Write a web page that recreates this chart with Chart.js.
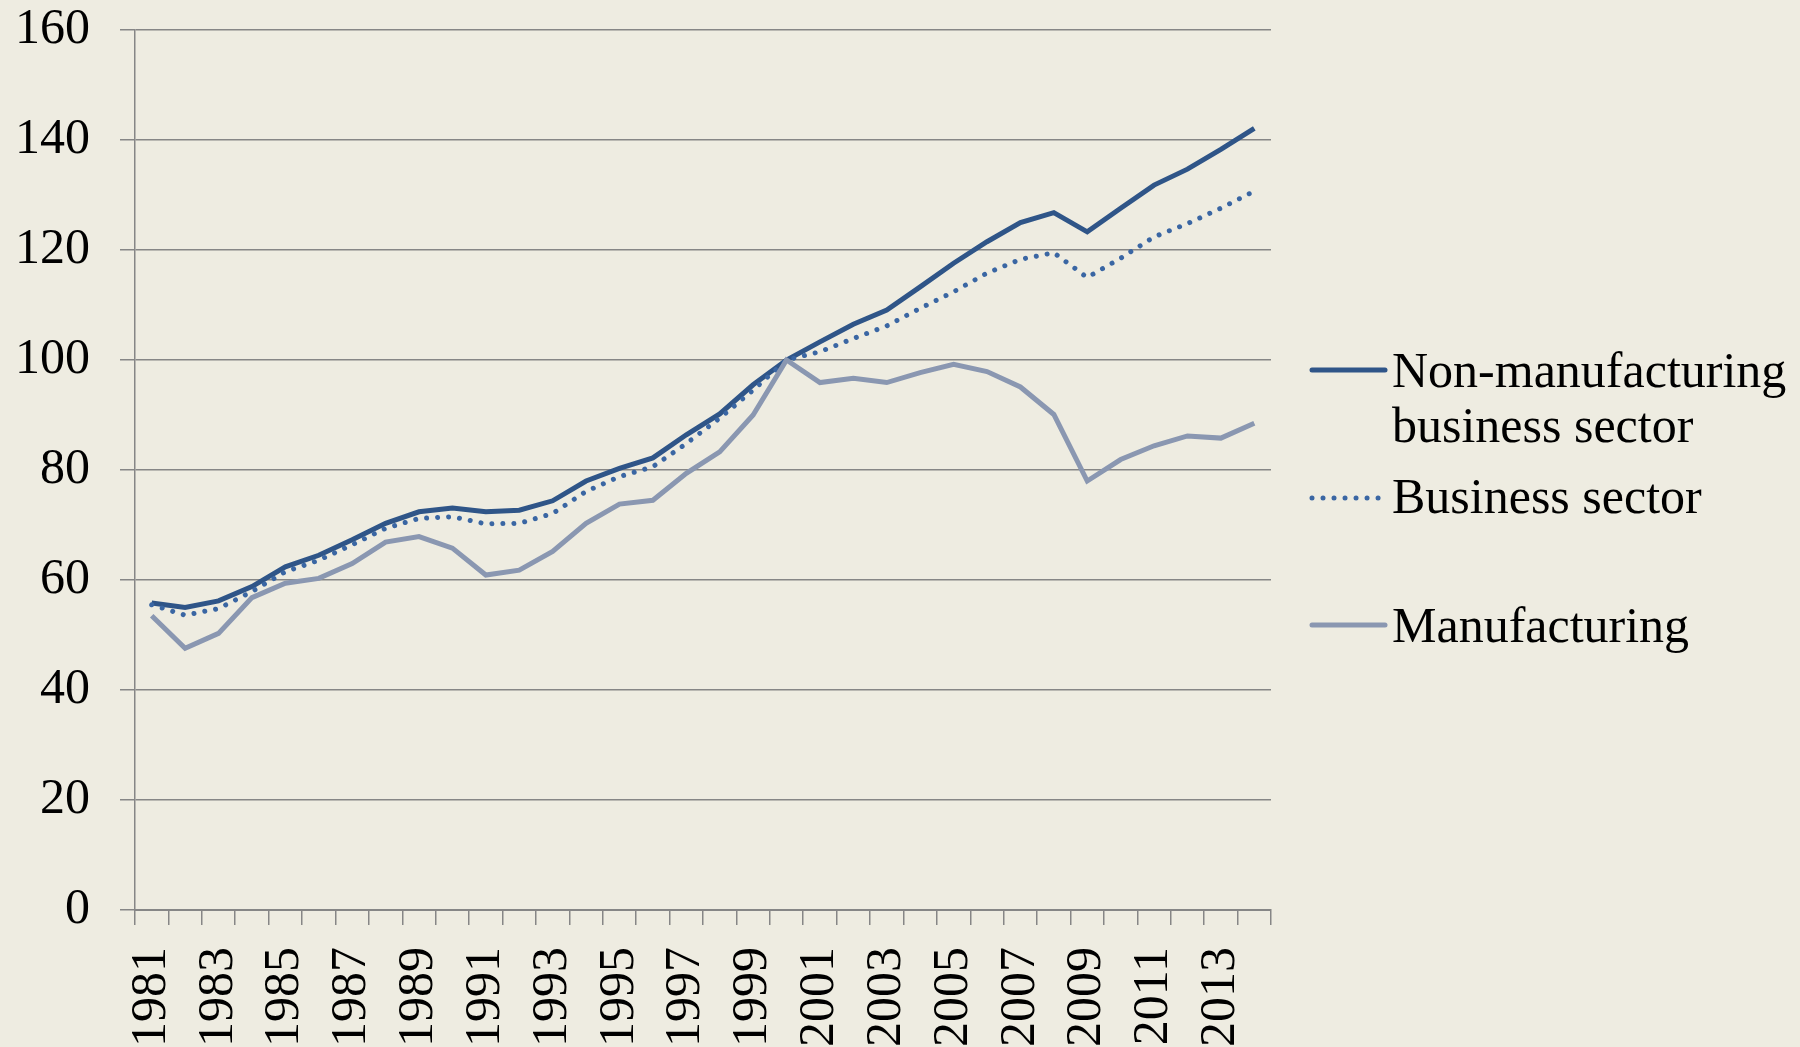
<!DOCTYPE html>
<html>
<head>
<meta charset="utf-8">
<script src="https://cdn.jsdelivr.net/npm/chart.js@4/dist/chart.umd.min.js"></script>
<style>
  html, body { margin: 0; padding: 0; background: #EEECE1; }
  canvas { display: block; }
</style>
</head>
<body>
<canvas id="chart" width="1800" height="1047"></canvas>
<script>
const years = ['1981', '1982', '1983', '1984', '1985', '1986', '1987', '1988', '1989', '1990',
    '1991', '1992', '1993', '1994', '1995', '1996', '1997', '1998', '1999', '2000',
    '2001', '2002', '2003', '2004', '2005', '2006', '2007', '2008', '2009', '2010',
    '2011', '2012', '2013', '2014'];

const nonManufacturing = [55.8, 55.0, 56.2, 58.8, 62.4, 64.5, 67.3, 70.3, 72.4, 73.1,
    72.4, 72.7, 74.4, 78.0, 80.3, 82.2, 86.4, 90.2, 95.5, 100,
    103.3, 106.5, 109.1, 113.3, 117.6, 121.5, 125.0, 126.8, 123.3, 127.6,
    131.8, 134.7, 138.3, 142.1];

const businessSector = [55.5, 53.6, 54.8, 57.9, 61.5, 63.6, 66.4, 69.4, 71.2, 71.5,
    70.2, 70.3, 72.1, 76.1, 78.8, 80.6, 84.8, 89.4, 94.5, 100,
    101.5, 103.9, 106.2, 109.4, 112.4, 115.8, 118.3, 119.5, 115.0, 118.5,
    122.4, 124.8, 127.6, 130.7];

const manufacturing = [53.5, 47.6, 50.3, 56.8, 59.4, 60.3, 63.0, 66.9, 67.9, 65.8,
    60.9, 61.8, 65.2, 70.3, 73.8, 74.5, 79.4, 83.3, 90.0, 100,
    95.9, 96.7, 95.9, 97.7, 99.2, 97.9, 95.1, 90.1, 78.0, 81.9,
    84.4, 86.2, 85.8, 88.5];

// legend text, one entry per series (lines wrap like the original)
const legendLines = [
    ['Non-manufacturing', 'business sector'],
    ['Business sector'],
    ['Manufacturing']
];

const FONT = '"Liberation Serif", "Times New Roman", serif';
const GRID = '#868686';

// draws the legend on the right, like the spreadsheet one
const sideLegend = {
    id: 'sideLegend',
    afterDraw(chart, args, opts) {
        const ctx = chart.ctx;
        const rows = opts.rows;
        ctx.save();
        ctx.font = '50px ' + FONT;
        ctx.fillStyle = '#000';
        ctx.textBaseline = 'alphabetic';
        chart.data.datasets.forEach((ds, i) => {
            const r = rows[i];
            ctx.beginPath();
            ctx.strokeStyle = ds.borderColor;
            ctx.lineWidth = ds.borderWidth;
            ctx.lineCap = 'round';
            ctx.setLineDash(ds.borderDash || []);
            ctx.moveTo(opts.x0, r.y);
            ctx.lineTo(opts.x1, r.y);
            ctx.stroke();
            ctx.setLineDash([]);
            legendLines[i].forEach((txt, j) => {
                ctx.fillText(txt, opts.textX, r.base + j * 55);
            });
        });
        ctx.restore();
    }
};

const ctx = document.getElementById('chart').getContext('2d');
const chart = new Chart(ctx, {
    type: 'line',
    data: {
        labels: years,
        datasets: [
            {
                label: 'Non-manufacturing business sector',
                data: nonManufacturing,
                borderColor: '#2F5588',
                borderWidth: 5,
                order: 3
            },
            {
                label: 'Business sector',
                data: businessSector,
                borderColor: '#3A66A3',
                borderWidth: 5,
                borderDash: [0.01, 11],
                borderCapStyle: 'round',
                order: 2
            },
            {
                label: 'Manufacturing',
                data: manufacturing,
                borderColor: '#8A97B1',
                borderWidth: 5,
                order: 1
            }
        ]
    },
    options: {
        responsive: false,
        animation: false,
        elements: { point: { radius: 0 }, line: { tension: 0 } },
        layout: { padding: { top: 30, right: 529, left: 0, bottom: 0 } },
        plugins: {
            legend: { display: false },
            tooltip: { enabled: false },
            sideLegend: {
                x0: 1312, x1: 1385, textX: 1392,
                rows: [
                    { y: 370, base: 387 },
                    { y: 498, base: 513 },
                    { y: 625, base: 642 }
                ]
            }
        },
        scales: {
            x: {
                offset: true,
                afterFit(scale) { scale.height = 137; },
                grid: {
                    offset: true,
                    drawOnChartArea: false,
                    drawTicks: true,
                    tickLength: 15,
                    color: GRID,
                    lineWidth: 1.5
                },
                border: { color: GRID, width: 2 },
                ticks: {
                    autoSkip: false,
                    minRotation: 90,
                    maxRotation: 90,
                    padding: 22,
                    color: '#000',
                    font: { family: FONT, size: 50 },
                    callback(value, index) {
                        return index % 2 === 0 ? this.getLabelForValue(value) : '';
                    }
                }
            },
            y: {
                min: 0,
                max: 160,
                afterFit(scale) {
                    scale.width = 135;
                    // label overflow should not push the plot down
                    scale.paddingTop = 0;
                    scale.paddingBottom = 0;
                },
                grid: {
                    color: GRID,
                    lineWidth: 1.5,
                    tickLength: 15
                },
                border: { color: GRID, width: 1.5 },
                ticks: {
                    stepSize: 20,
                    padding: 30,
                    color: '#000',
                    font: { family: FONT, size: 50 }
                }
            }
        }
    },
    plugins: [sideLegend]
});
</script>
</body>
</html>
